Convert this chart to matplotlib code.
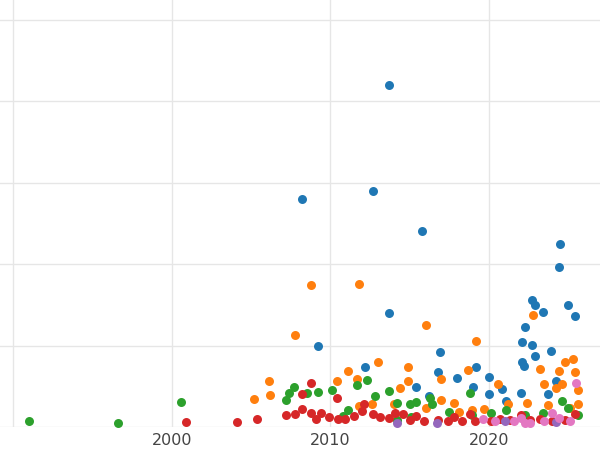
import matplotlib.pyplot as plt

# (year, value) per series
blue_x = [2013.7, 2008.2, 2012.7, 2015.8, 2024.5, 2024.4, 2013.7, 2022.7, 2022.9, 2023.4, 2025.0, 2025.4,
          2022.3, 2009.2, 2022.1, 2022.7, 2022.9, 2023.9, 2016.9, 2022.1, 2022.2, 2019.2, 2016.8, 2012.2,
          2020.0, 2018.0, 2024.2, 2019.0, 2015.4, 2020.8, 2022.0, 2020.0, 2021.1, 2023.7, 2016.2]
blue_y = [420, 280, 290, 240, 225, 196, 140, 156, 150, 141, 150, 136,
          123, 99, 104, 101, 87, 93, 92, 80, 75, 74, 67, 74,
          61, 60, 56, 49, 49, 47, 42, 40, 32, 40, 38]

orange_x = [2008.8, 2011.8, 2022.8, 2016.0, 2007.8, 2019.2, 2025.3, 2024.8, 2013.0, 2011.1, 2025.4, 2018.7,
            2024.4, 2023.2, 2014.9, 2006.1, 2010.4, 2011.7, 2017.0, 2024.6, 2023.5, 2020.6, 2024.2, 2025.6,
            2014.4, 2014.9, 2005.2, 2006.2, 2017.0, 2017.8, 2018.9, 2019.7, 2021.2, 2022.4, 2023.7, 2025.6,
            2025.1, 2018.1, 2016.0, 2014.0, 2012.6, 2011.8]
orange_y = [174, 175, 137, 125, 113, 106, 83, 80, 80, 69, 67, 70,
            69, 71, 74, 56, 56, 59, 59, 53, 53, 53, 48, 45,
            48, 56, 34, 39, 33, 29, 21, 22, 28, 29, 27, 28,
            23, 18, 23, 28, 28, 26]

green_x = [1991.0, 1996.6, 2000.6, 2007.7, 2007.2, 2007.4, 2008.5, 2009.2, 2010.1, 2011.7, 2012.3, 2012.8,
           2013.7, 2014.2, 2015.0, 2015.4, 2016.3, 2016.4, 2017.5, 2018.8, 2018.9, 2020.1, 2021.1, 2022.3,
           2023.4, 2024.6, 2025.0, 2025.6, 2011.1, 2010.8, 2014.2, 2015.1]
green_y = [7, 5, 31, 49, 33, 42, 42, 43, 45, 52, 58, 38,
           44, 29, 28, 31, 36, 28, 18, 42, 15, 17, 21, 15,
           17, 32, 23, 15, 21, 13, 9, 12]

red_x = [2000.9, 2004.1, 2005.4, 2007.2, 2007.8, 2008.2, 2008.2, 2008.8, 2008.8, 2009.1, 2009.4, 2009.9,
         2010.4, 2010.5, 2010.9, 2011.5, 2012.0, 2012.1, 2012.7, 2013.1, 2013.7, 2014.1, 2014.6, 2015.0,
         2015.4, 2015.9, 2016.8, 2017.4, 2017.8, 2018.3, 2018.8, 2019.1, 2020.1, 2020.7, 2021.3, 2022.0,
         2022.6, 2023.2, 2024.0, 2024.8, 2025.4]
red_y = [6, 6, 10, 15, 16, 41, 22, 54, 17, 10, 17, 12,
         36, 10, 10, 14, 20, 28, 16, 12, 11, 17, 16, 9,
         14, 7, 9, 7, 12, 7, 16, 7, 7, 10, 9, 15,
         9, 10, 7, 9, 16]

purple_x = [2014.2, 2016.7, 2021.0, 2024.2]
purple_y = [5, 5, 7, 6]

pink_x = [2025.5, 2019.6, 2020.4, 2021.6, 2022.0, 2022.6, 2023.5, 2024.0, 2024.4, 2025.1, 2022.3]
pink_y = [54, 10, 7, 7, 11, 5, 7, 17, 11, 7, 5]

series = [
    (blue_x, blue_y, "#1f77b4"),
    (orange_x, orange_y, "#ff7f0e"),
    (green_x, green_y, "#2ca02c"),
    (red_x, red_y, "#d62728"),
    (purple_x, purple_y, "#9467bd"),
    (pink_x, pink_y, "#e377c2"),
]

fig = plt.figure(figsize=(6, 4.5), dpi=100)
ax = fig.add_axes([0, 23 / 450, 1, 427 / 450])

for xs, ys, c in series:
    ax.scatter(xs, ys, s=42, color=c, linewidths=0, clip_on=False, zorder=3)

ax.set_xlim(1989.17, 2027.0)
ax.set_ylim(0, 524)
ax.set_xticks([1990, 2000, 2010, 2020])
ax.set_xticklabels(["", "2000", "2010", "2020"], fontsize=11.5, color="#444444")
ax.set_yticks([0, 100, 200, 300, 400, 500])
ax.set_yticklabels([])
ax.tick_params(length=0, pad=4)
ax.grid(True, color="#e6e6e6", linewidth=1)
for s in ax.spines.values():
    s.set_visible(False)

fig.savefig("out.png", dpi=100)
